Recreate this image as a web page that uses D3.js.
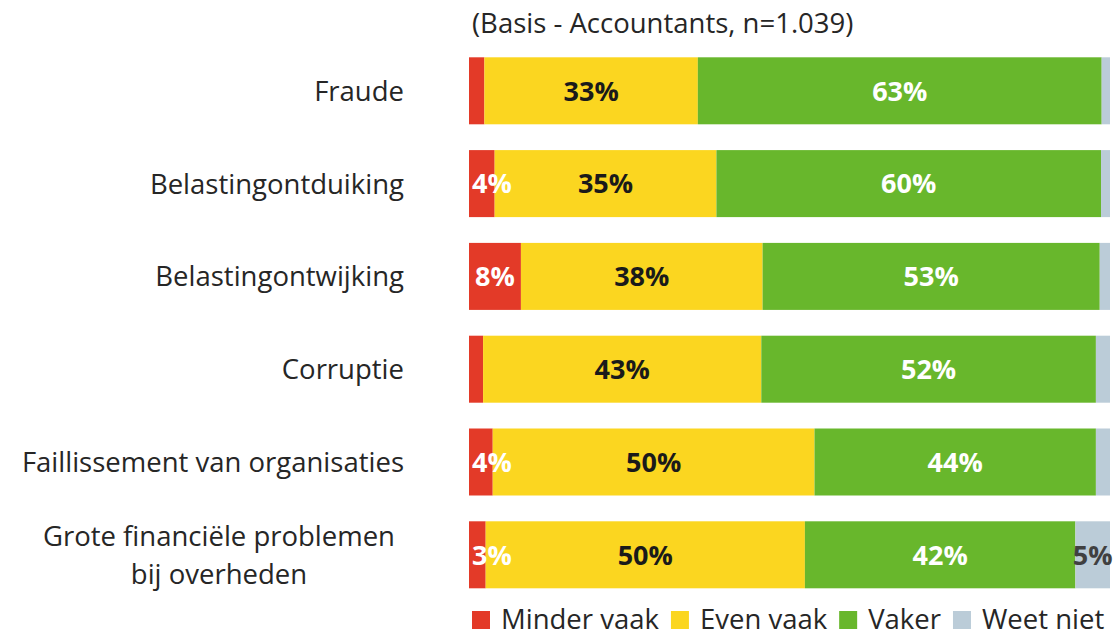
<!DOCTYPE html>
<html>
<head>
<meta charset="utf-8">
<script src="https://cdn.jsdelivr.net/npm/d3@7"></script>
<style>
  body { margin: 0; background: #fff; }
  text { font-family: "Open Sans", "Noto Sans", sans-serif; }
</style>
</head>
<body>
<svg id="chart" width="1114" height="633"></svg>
<script>
// categories (top to bottom), lines split for wrapped labels
const categories = [
    ['Fraude'],
    ['Belastingontduiking'],
    ['Belastingontwijking'],
    ['Corruptie'],
    ['Faillissement van organisaties'],
    ['Grote financiële problemen', 'bij overheden']
];
const seriesNames = ['Minder vaak', 'Even vaak', 'Vaker', 'Weet niet'];
const seriesColors = ['#e33a28', '#fbd620', '#68b72c', '#bbccd8'];
const labelColors = ['#ffffff', '#1a1a1a', '#ffffff', '#404040'];

// percentages
const minderVaak = [2.4, 4.0, 8.1, 2.2, 3.7, 2.6];
const evenVaak   = [33.3, 34.6, 37.7, 43.4, 50.2, 49.8];
const vaker      = [63.0, 60.0, 52.6, 52.2, 43.9, 42.2];
const weetNiet   = [1.3, 1.4, 1.6, 2.2, 2.2, 5.4];

const subtitle = '(Basis - Accountants, n=1.039)';

const svg = d3.select('#chart');

const rows = categories.map((c, i) => ({
    key: c.join(' '),
    lines: c,
    values: [minderVaak[i], evenVaak[i], vaker[i], weetNiet[i]]
}));

const x = d3.scaleLinear().domain([0, 100]).range([469, 1110]);
const y = d3.scaleBand()
    .domain(rows.map(r => r.key))
    .range([57.3, 588.3])
    .paddingInner(0.278)
    .paddingOuter(0);

// subtitle
svg.append('text')
    .attr('x', 472)
    .attr('y', 33)
    .attr('font-size', 27.5)
    .attr('fill', '#262626')
    .text(subtitle);

// stacked bars
const stack = [];
rows.forEach(r => {
    let acc = 0;
    r.values.forEach((v, j) => {
        stack.push({ key: r.key, s: j, x0: acc, x1: acc + v, v: v });
        acc += v;
    });
});

const g = svg.append('g');
g.selectAll('rect')
    .data(stack)
    .join('rect')
    .attr('x', d => x(d.x0))
    .attr('y', d => y(d.key))
    .attr('width', d => x(d.x1) - x(d.x0))
    .attr('height', y.bandwidth())
    .attr('fill', d => seriesColors[d.s]);

// value labels (hidden when they would read below 3%)
g.selectAll('text.val')
    .data(stack.filter(d => Math.round(d.v) >= 3))
    .join('text')
    .attr('class', 'val')
    .attr('x', d => Math.max((x(d.x0) + x(d.x1)) / 2, x(0) + 23))
    .attr('y', d => y(d.key) + y.bandwidth() / 2)
    .attr('dy', '0.36em')
    .attr('text-anchor', 'middle')
    .attr('font-size', 27)
    .attr('font-weight', 'bold')
    .attr('fill', d => labelColors[d.s])
    .text(d => Math.round(d.v) + '%');

// category labels
const cat = svg.append('g');
rows.forEach(r => {
    const cy = y(r.key) + y.bandwidth() / 2;
    const lh = 38;
    if (r.lines.length === 1) {
        cat.append('text')
            .attr('x', 404)
            .attr('y', cy)
            .attr('dy', '0.36em')
            .attr('text-anchor', 'end')
            .attr('font-size', 27.5)
            .attr('fill', '#262626')
            .text(r.lines[0]);
    } else {
        const t = cat.append('text')
            .attr('font-size', 27.5)
            .attr('fill', '#262626')
            .attr('text-anchor', 'middle');
        const spans = r.lines.map((l, k) => t.append('tspan')
            .attr('y', cy + (k - (r.lines.length - 1) / 2) * lh)
            .attr('dy', '0.36em')
            .text(l));
        const wmax = d3.max(spans, s => s.node().getComputedTextLength());
        spans.forEach(s => s.attr('x', 395 - wmax / 2));
    }
});

// legend
const leg = svg.append('g');
let lx = 472;
const ly = 619;
seriesNames.forEach((n, j) => {
    leg.append('rect')
        .attr('x', lx)
        .attr('y', ly - 8)
        .attr('width', 18)
        .attr('height', 18)
        .attr('fill', seriesColors[j]);
    const t = leg.append('text')
        .attr('x', lx + 29)
        .attr('y', ly)
        .attr('dy', '0.36em')
        .attr('font-size', 27.5)
        .attr('fill', '#262626')
        .text(n);
    lx += 29 + t.node().getComputedTextLength() + 12;
});
</script>
</body>
</html>
